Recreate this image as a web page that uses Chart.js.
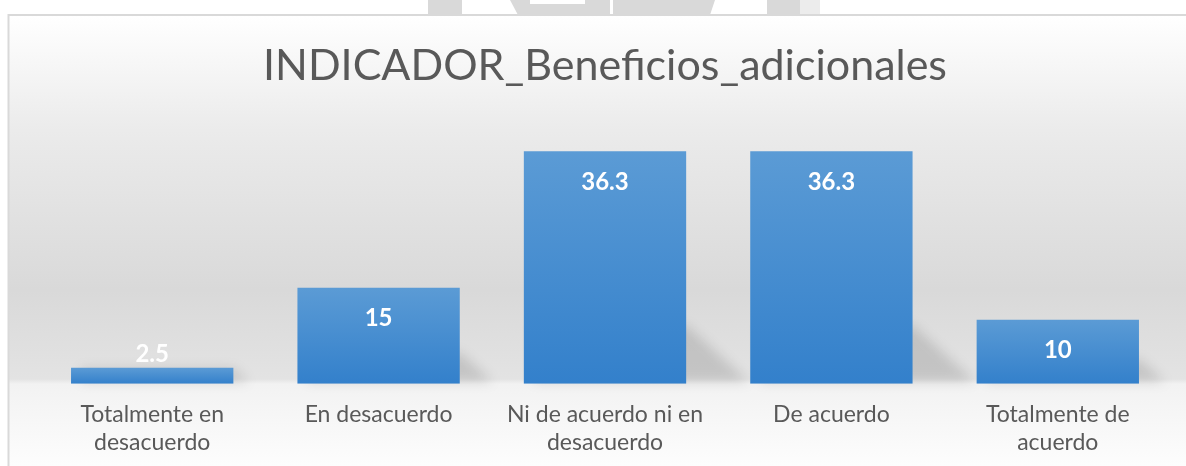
<!DOCTYPE html>
<html>
<head>
<meta charset="utf-8">
<script src="https://cdn.jsdelivr.net/npm/chart.js@4"></script>
<style>
  html, body { margin: 0; padding: 0; background: #ffffff; }
  #wrap { width: 1186px; height: 466px; }
</style>
</head>
<body>
<div id="wrap"><canvas id="chart1" width="1186" height="466"></canvas></div>
<script>
// INDICADOR_Beneficios_adicionales
const chartTitle = 'INDICADOR_Beneficios_adicionales';
const categories = [
    ['Totalmente en', 'desacuerdo'],
    ['En desacuerdo'],
    ['Ni de acuerdo ni en', 'desacuerdo'],
    ['De acuerdo'],
    ['Totalmente de', 'acuerdo']
];
const percentages = [2.5, 15, 36.3, 36.3, 10];
const valueLabels = ['2.5', '15', '36.3', '36.3', '10'];

const FONT = 'Lato, "Open Sans", sans-serif';

// fondo degradado + marco + restos de marca de agua arriba
const backgroundPlugin = {
    id: 'background',
    beforeDraw(chart) {
        const ctx = chart.ctx;
        const w = chart.width, h = chart.height;
        ctx.save();
        ctx.fillStyle = '#ffffff';
        ctx.fillRect(0, 0, w, h);

        // marca de agua
        ctx.fillStyle = '#d9d9d9';
        ctx.fillRect(428, 0, 34, 15);
        ctx.beginPath();
        ctx.moveTo(510, 0); ctx.lineTo(610, 0); ctx.lineTo(610, 15); ctx.lineTo(518, 15);
        ctx.closePath(); ctx.fill();
        ctx.fillStyle = '#ffffff';
        ctx.fillRect(530, 0, 55, 4);
        ctx.fillStyle = '#d9d9d9';
        ctx.beginPath();
        ctx.moveTo(613, 0); ctx.lineTo(715, 0); ctx.lineTo(710, 15); ctx.lineTo(613, 15);
        ctx.closePath(); ctx.fill();
        ctx.fillRect(767, 0, 33, 15);
        ctx.fillStyle = '#ececec';
        ctx.fillRect(800, 0, 20, 15);

        const g = ctx.createLinearGradient(0, 16, 0, h);
        g.addColorStop(0, '#ffffff');
        g.addColorStop((130 - 16) / (h - 16), '#ebebeb');
        g.addColorStop((290 - 16) / (h - 16), '#d9d9d9');
        g.addColorStop((379 - 16) / (h - 16), '#e3e3e3');
        g.addColorStop((384 - 16) / (h - 16), '#f2f2f2');
        g.addColorStop(1, '#fdfdfd');
        ctx.fillStyle = g;
        ctx.fillRect(9, 16, w - 9, h - 16);

        ctx.strokeStyle = '#d9d9d9';
        ctx.lineWidth = 2;
        ctx.beginPath();
        ctx.moveTo(8.5, h);
        ctx.lineTo(8.5, 15);
        ctx.lineTo(w, 15);
        ctx.stroke();
        ctx.restore();
    }
};

// sombra en perspectiva detras de cada barra
const shadowPlugin = {
    id: 'barShadow',
    beforeDatasetsDraw(chart) {
        const ctx = chart.ctx;
        const meta = chart.getDatasetMeta(0);
        ctx.save();
        ctx.filter = 'blur(6px)';
        ctx.fillStyle = 'rgba(0,0,0,0.13)';
        meta.data.forEach((bar) => {
            const hgt = bar.base - bar.y;
            const left = bar.x - bar.width / 2;
            const right = bar.x + bar.width / 2;
            const up = 12 + 0.2 * hgt;
            const out = 12 + 0.22 * hgt;
            ctx.beginPath();
            ctx.moveTo(left + 10, bar.base - up);
            ctx.lineTo(right, bar.base - up);
            ctx.lineTo(right + out, bar.base - 2);
            ctx.lineTo(left + 10, bar.base - 2);
            ctx.closePath();
            ctx.fill();
        });
        ctx.restore();
    }
};

// etiquetas de datos dentro del extremo de la barra
const labelsPlugin = {
    id: 'valueLabels',
    afterDatasetsDraw(chart) {
        const ctx = chart.ctx;
        const meta = chart.getDatasetMeta(0);
        ctx.save();
        ctx.fillStyle = '#ffffff';
        ctx.font = 'bold 24px ' + FONT;
        ctx.textAlign = 'center';
        ctx.textBaseline = 'middle';
        meta.data.forEach((bar, i) => {
            const y = Math.min(bar.y + 31, bar.base - 30);
            ctx.fillText(valueLabels[i], bar.x, y);
        });
        ctx.restore();
    }
};

const ctx = document.getElementById('chart1').getContext('2d');
const chart1 = new Chart(ctx, {
    type: 'bar',
    data: {
        labels: categories,
        datasets: [{
            label: chartTitle,
            data: percentages,
            backgroundColor: (c) => {
                const chart = c.chart;
                if (!chart.chartArea || c.raw === undefined) return '#4a8fd2';
                const yScale = chart.scales.y;
                const top = yScale.getPixelForValue(c.raw);
                const base = yScale.getPixelForValue(0);
                const g = chart.ctx.createLinearGradient(0, top, 0, base);
                g.addColorStop(0, '#5b9bd5');
                g.addColorStop(1, '#3380cb');
                return g;
            },
            borderWidth: 0,
            categoryPercentage: 1,
            barPercentage: 0.717
        }]
    },
    options: {
        responsive: false,
        animation: false,
        layout: {
            padding: { left: 39, right: 15, top: 0, bottom: 1 }
        },
        plugins: {
            legend: { display: false },
            tooltip: { enabled: false },
            title: {
                display: true,
                text: chartTitle,
                color: '#595959',
                font: { family: FONT, size: 43, weight: 'normal', lineHeight: 1.2 },
                padding: { top: 40, bottom: 36 }
            }
        },
        scales: {
            x: {
                grid: { display: false },
                border: { display: false },
                ticks: {
                    color: '#595959',
                    font: { family: FONT, size: 23, lineHeight: 1.2 },
                    padding: 9,
                    maxRotation: 0,
                    autoSkip: false
                }
            },
            y: {
                display: false,
                min: 0,
                max: 40
            }
        }
    },
    plugins: [backgroundPlugin, shadowPlugin, labelsPlugin]
});
</script>
</body>
</html>
